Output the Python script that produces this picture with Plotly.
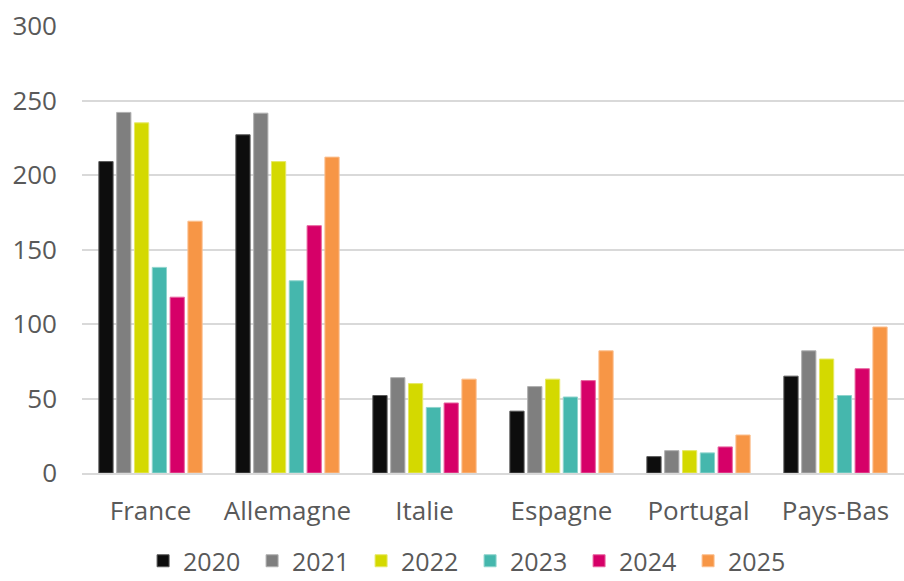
import plotly.graph_objects as go

categories = ["France", "Allemagne", "Italie", "Espagne", "Portugal", "Pays-Bas"]
years = ["2020", "2021", "2022", "2023", "2024", "2025"]
v2020 = [209, 227, 52, 41.5, 11, 65]
v2021 = [242, 241.5, 64, 58, 15, 82]
v2022 = [235, 209, 60, 63, 15, 76.5]
v2023 = [138, 129, 44, 51, 13.5, 52]
v2024 = [118, 166, 47, 62, 17.5, 70]
v2025 = [169, 212, 63, 82, 25.5, 98]
series = [v2020, v2021, v2022, v2023, v2024, v2025]
colors = ["#0d0d0d", "#7f7f7f", "#d4d900", "#45b7ad", "#d60068", "#f79646"]
edge = ["#5a5a5a", "#b0b0b0", "#e6e866", "#8fd4cd", "#e866a0", "#fbbf8f"]
y_ticks = [0, 50, 100, 150, 200, 250, 300]

fig = go.Figure()
for name, vals, c, e in zip(years, series, colors, edge):
    fig.add_trace(go.Bar(x=categories, y=vals, name=name,
                         marker=dict(color=c, line=dict(color=e, width=1))))

font = "Open Sans, Liberation Sans, sans-serif"
fig.update_layout(
    width=904, height=581,
    margin=dict(l=82, r=0, t=26, b=108),
    paper_bgcolor="white", plot_bgcolor="white",
    barmode="group", bargap=0.22, bargroupgap=0.2,
    font=dict(family=font, size=26, color="#595959"),
    showlegend=True,
    legend=dict(orientation="h", x=0.52, xanchor="center", xref="container",
                y=20 / 581, yanchor="middle", yref="container",
                font=dict(size=25, color="#595959"), itemwidth=30,
                entrywidth=64, entrywidthmode="pixels",
                tracegroupgap=0, traceorder="normal"),
    xaxis=dict(showline=True, linecolor="#d9d9d9", linewidth=2, ticks="",
               ticklabelstandoff=14, tickfont=dict(size=26, color="#595959")),
    yaxis=dict(range=[0, 300], tickvals=y_ticks, showgrid=True, gridcolor="#d9d9d9",
               gridwidth=1.5, zeroline=False, ticks="", ticklabelstandoff=24,
               tickfont=dict(size=26, color="#595959")),
)
fig.write_html("out.html")
